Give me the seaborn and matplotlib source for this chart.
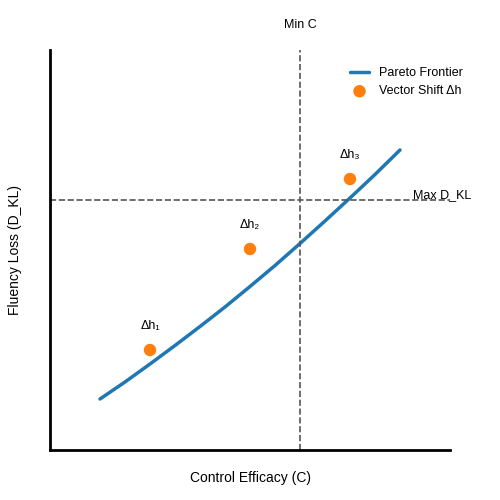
import numpy as np
import pandas as pd
import matplotlib
matplotlib.use("Agg")
import matplotlib.pyplot as plt
import seaborn as sns

sns.set_style("white")
plt.rcParams["font.family"] = ["Liberation Sans", "DejaVu Sans"]
plt.rcParams["text.color"] = "black"
plt.rcParams["axes.labelcolor"] = "black"

# Pareto frontier
front_x = [1.0, 1.5, 2.0, 2.5, 3.0, 3.5, 4.0, 4.5, 5.0, 5.5, 6.0, 6.5, 7.0]
front_y = [1.02, 1.36, 1.72, 2.09, 2.47, 2.86, 3.27, 3.69, 4.13, 4.58, 5.04, 5.51, 6.0]

# vector shift points
shift_x = [2.0, 4.0, 6.0]
shift_y = [2.0, 4.02, 5.42]
shift_labels = ["Δh₁", "Δh₂", "Δh₃"]

min_c = 5.0
max_dkl = 5.0

fig = plt.figure(figsize=(5, 5), dpi=100)
ax = fig.add_axes([0.1, 0.1, 0.8, 0.8])

sns.lineplot(x=front_x, y=front_y, ax=ax, color="#1f77b4", linewidth=2.5,
             label="Pareto Frontier")
sns.scatterplot(x=shift_x, y=shift_y, ax=ax, color="#ff7f0e", s=80,
                edgecolor="none", label="Vector Shift Δh", zorder=3)

for x, y, lab in zip(shift_x, shift_y, shift_labels):
    ax.text(x, y + 0.48, lab, ha="center", va="center", fontsize=9)

ax.axvline(min_c, color="#555555", linestyle="--", linewidth=1.2)
ax.axhline(max_dkl, color="#555555", linestyle="--", linewidth=1.2)
ax.text(min_c, 8.5, "Min C", ha="center", va="center", fontsize=9)
ax.text(7.26, max_dkl + 0.1, "Max D_KL", ha="left", va="center", fontsize=9)

ax.set_xlim(0, 8)
ax.set_ylim(0, 8)
ax.set_xticks([])
ax.set_yticks([])
ax.set_xlabel("Control Efficacy (C)", fontsize=10, labelpad=15)
ax.set_ylabel("Fluency Loss (D_KL)", fontsize=10, labelpad=20)

sns.despine(ax=ax)
for side in ["left", "bottom"]:
    ax.spines[side].set_linewidth(2)
    ax.spines[side].set_color("black")

ax.legend(loc="upper right", frameon=False, fontsize=9, handlelength=1.5,
          bbox_to_anchor=(1.06, 0.985))

fig.savefig("out.png", dpi=100)
